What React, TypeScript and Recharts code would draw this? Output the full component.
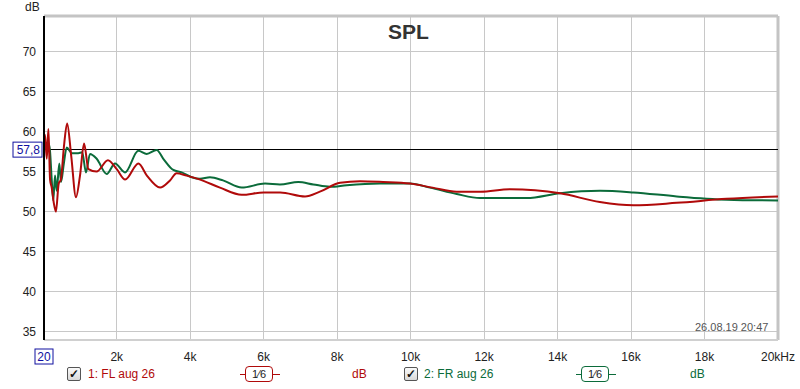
import { LineChart, Line, XAxis, YAxis, CartesianGrid, ReferenceLine } from 'recharts';

// frequency (Hz) / level (dB)
const flFreq = [20, 47, 95, 140, 185, 230, 290, 345, 420, 480, 560, 650, 760, 890, 1000, 1110, 1230, 1450, 1760, 2000, 2230, 2590, 2820, 3180, 3450, 3630, 3900, 4270, 4810, 5400, 6000, 6450, 7125, 7530, 8080, 8620, 9250, 9980, 10600, 11250, 11900, 12700, 14070, 15150, 16060, 17240, 18600, 20000];
const flDb = [58.5, 59.6, 56.6, 60.3, 54.0, 53.0, 51.0, 50.0, 53.5, 54.0, 58.0, 61.0, 57.0, 51.8, 54.5, 58.5, 55.3, 55.0, 56.4, 55.3, 54.0, 56.0, 54.5, 53.0, 53.9, 54.8, 54.5, 54.0, 53.0, 52.1, 52.4, 52.4, 51.9, 52.5, 53.6, 53.8, 53.7, 53.5, 53.0, 52.5, 52.5, 52.8, 52.3, 51.2, 50.8, 51.1, 51.6, 51.9];

const frFreq = [20, 47, 137, 183, 230, 273, 320, 366, 436, 483, 560, 638, 774, 954, 1060, 1163, 1272, 1454, 1727, 1953, 2225, 2587, 2816, 3088, 3268, 3540, 3768, 4040, 4266, 4538, 4893, 5402, 6036, 6444, 6942, 7351, 7805, 8260, 9166, 9983, 10527, 11254, 11889, 12251, 13160, 14066, 15155, 16062, 17243, 18604, 20000];
const frDb = [58.0, 58.5, 58.6, 57.6, 54.0, 51.4, 54.5, 52.6, 56.0, 53.7, 56.0, 58.0, 57.3, 57.3, 57.4, 54.9, 57.2, 56.6, 54.7, 56.0, 54.9, 57.6, 57.2, 57.7, 56.6, 55.2, 54.9, 54.3, 54.1, 54.3, 53.9, 53.0, 53.5, 53.4, 53.7, 53.4, 53.1, 53.3, 53.5, 53.5, 53.0, 52.2, 51.7, 51.7, 51.7, 52.3, 52.6, 52.4, 51.9, 51.5, 51.4];

const xTicks = [20, 2000, 4000, 6000, 8000, 10000, 12000, 14000, 16000, 18000, 20000];
const yTicks = [35, 40, 45, 50, 55, 60, 65, 70];
const markerDb = 57.8;

const flData = flFreq.map((f, i) => ({ f, db: flDb[i] }));
const frData = frFreq.map((f, i) => ({ f, db: frDb[i] }));

const RED = '#b00a0a';
const GREEN = '#0b6b3a';
const FONT = '"Liberation Sans", Arial, sans-serif';

const XTick = (props: any) => {
  const { x, y, payload } = props;
  const v = payload.value;
  const label = v === 20 ? '20' : v === 20000 ? '20kHz' : `${v / 1000}k`;
  return (
    <g>
      {v === 20 && <rect x={x - 9} y={y + 1} width={18} height={15} fill="#fff" stroke="#1010a0" strokeWidth={1} />}
      <text x={x} y={y + 13} textAnchor="middle" fontSize={12} fontFamily={FONT} fill={v === 20 ? '#1010a0' : '#222'}>{label}</text>
    </g>
  );
};

const MarkerLabel = (props: any) => {
  const { viewBox } = props;
  const y = viewBox.y;
  return (
    <g>
      <rect x={13} y={y - 7} width={29} height={15} fill="#fff" stroke="#1010a0" strokeWidth={1} />
      <text x={40} y={y + 5} textAnchor="end" fontSize={12} fontFamily={FONT} fill="#1010a0">57,8</text>
    </g>
  );
};

const Box = ({ left, color }: { left: number; color: string }) => (
  <div style={{ position: 'absolute', left, top: 366, width: 40, height: 16 }}>
    <div style={{ position: 'absolute', left: 0, top: 8, width: 40, height: 1, background: color }} />
    <div style={{ position: 'absolute', left: 5, top: 0, width: 26, height: 14, border: `1px solid ${color}`, borderRadius: 4, background: '#fff', fontSize: 11, lineHeight: '14px', textAlign: 'center', color: '#222' }}>1⁄6</div>
  </div>
);

const Check = ({ left }: { left: number }) => (
  <div style={{ position: 'absolute', left, top: 367, width: 12, height: 12, border: '1px solid #555', borderRadius: 2, background: 'linear-gradient(#fafafa,#d8d8d8)', fontSize: 12, lineHeight: '12px', textAlign: 'center', color: '#111', fontWeight: 'bold' }}>✓</div>
);

export default function App() {
  return (
    <div style={{ position: 'fixed', left: 0, top: 0, width: 800, height: 389, background: '#fff', fontFamily: FONT }}>
      <LineChart width={800} height={389} data={flData} margin={{ top: 16, right: 22, bottom: 29, left: 8 }}>
        <CartesianGrid stroke="#c8c8c8" strokeWidth={1} horizontalValues={yTicks} verticalValues={xTicks} shapeRendering="crispEdges" />
        <XAxis type="number" dataKey="f" domain={[20, 20000]} ticks={xTicks} interval={0} axisLine={false} tickLine={false} height={20} tick={<XTick />} allowDataOverflow />
        <YAxis type="number" domain={[34, 74.4]} ticks={yTicks} width={36} axisLine={{ stroke: '#000', strokeWidth: 2 }} tickLine={false} tick={{ fontSize: 12, fill: '#222', fontFamily: FONT }} allowDataOverflow />
        <ReferenceLine y={74.4} stroke="#c4c4c4" strokeWidth={3} />
        <ReferenceLine x={20000} stroke="#c4c4c4" strokeWidth={3} />
        <ReferenceLine y={34} stroke="#d0d0d0" strokeWidth={2} />
        <ReferenceLine y={markerDb} stroke="#000" strokeWidth={1} shapeRendering="crispEdges" label={<MarkerLabel />} />
        <Line data={frData} dataKey="db" type="monotone" stroke={GREEN} strokeWidth={2} dot={false} isAnimationActive={false} />
        <Line data={flData} dataKey="db" type="monotone" stroke={RED} strokeWidth={2} dot={false} isAnimationActive={false} />
      </LineChart>
      <div style={{ position: 'absolute', left: 25, top: 0, fontSize: 12, color: '#222' }}>dB</div>
      <div style={{ position: 'absolute', left: 388, top: 20, fontSize: 21, fontWeight: 'bold', color: '#333' }}>SPL</div>
      <div style={{ position: 'absolute', left: 695, top: 321, fontSize: 11, color: '#555' }}>26.08.19 20:47</div>
      <Check left={67} />
      <div style={{ position: 'absolute', left: 88, top: 367, fontSize: 12, color: RED }}>1: FL aug 26</div>
      <Box left={240} color={RED} />
      <div style={{ position: 'absolute', left: 352, top: 367, fontSize: 12, color: RED }}>dB</div>
      <Check left={404} />
      <div style={{ position: 'absolute', left: 424, top: 367, fontSize: 12, color: GREEN }}>2: FR aug 26</div>
      <Box left={576} color={GREEN} />
      <div style={{ position: 'absolute', left: 690, top: 367, fontSize: 12, color: GREEN }}>dB</div>
    </div>
  );
}
